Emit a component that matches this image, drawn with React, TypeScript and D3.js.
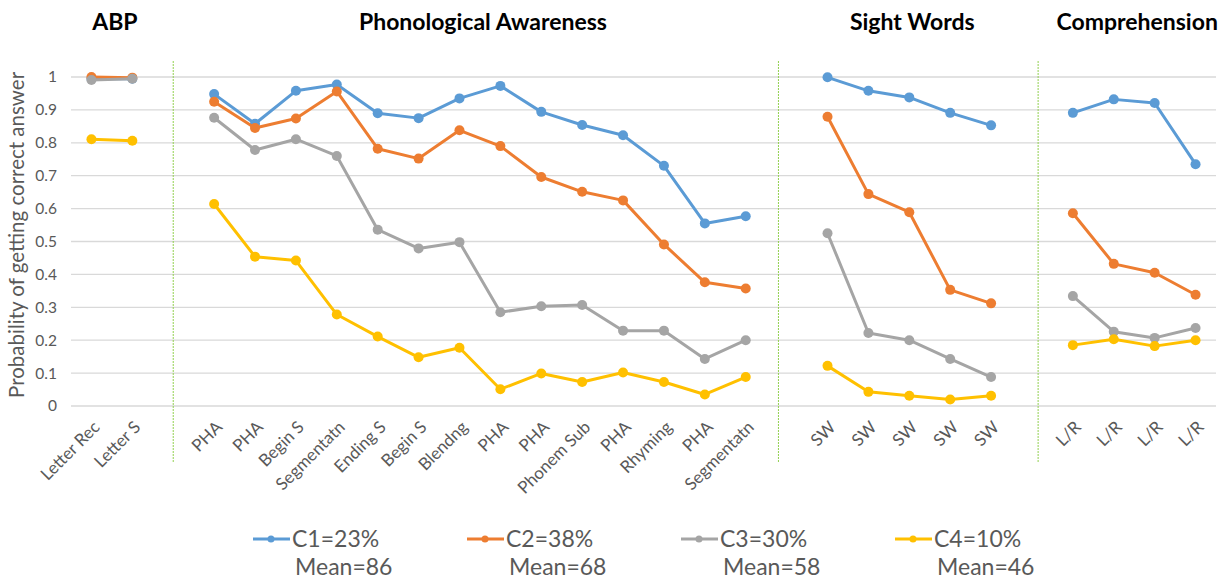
import React, { useEffect, useRef } from 'react';
import * as d3 from 'd3';

// '' marks an empty slot between test groups
const categories = [
  'Letter Rec', 'Letter S', '',
  'PHA', 'PHA', 'Begin S', 'Segmentatn', 'Ending S', 'Begin S', 'Blendng',
  'PHA', 'PHA', 'Phonem Sub', 'PHA', 'Rhyming', 'PHA', 'Segmentatn', '',
  'SW', 'SW', 'SW', 'SW', 'SW', '',
  'L/R', 'L/R', 'L/R', 'L/R',
];

const sections = [
  { name: 'ABP', from: 0, to: 1 },
  { name: 'Phonological Awareness', from: 3, to: 16 },
  { name: 'Sight Words', from: 18, to: 22 },
  { name: 'Comprehension', from: 24, to: 27 },
];

// hand-placed divider lines, in category slots
const separatorSlots = [2, 16.8, 23.15];

const c1 = [
  0.995, 0.995, null,
  0.948, 0.858, 0.958, 0.977, 0.89, 0.875, 0.935, 0.973, 0.894, 0.854, 0.823, 0.73, 0.555, 0.577, null,
  0.999, 0.958, 0.938, 0.891, 0.853, null,
  0.891, 0.932, 0.921, 0.735,
];
const c2 = [
  1.0, 0.998, null,
  0.925, 0.845, 0.874, 0.956, 0.782, 0.752, 0.838, 0.79, 0.696, 0.651, 0.625, 0.491, 0.376, 0.357, null,
  0.879, 0.644, 0.589, 0.353, 0.312, null,
  0.586, 0.432, 0.405, 0.338,
];
const c3 = [
  0.991, 0.995, null,
  0.876, 0.778, 0.811, 0.76, 0.536, 0.479, 0.498, 0.285, 0.303, 0.307, 0.229, 0.229, 0.143, 0.2, null,
  0.525, 0.222, 0.2, 0.143, 0.088, null,
  0.334, 0.226, 0.207, 0.237,
];
const c4 = [
  0.811, 0.806, null,
  0.614, 0.454, 0.442, 0.278, 0.211, 0.148, 0.177, 0.051, 0.099, 0.073, 0.102, 0.073, 0.035, 0.088, null,
  0.122, 0.043, 0.031, 0.02, 0.031, null,
  0.185, 0.203, 0.182, 0.2,
];

const seriesNames = ['C1=23%', 'C2=38%', 'C3=30%', 'C4=10%'];
const seriesMeans = ['Mean=86', 'Mean=68', 'Mean=58', 'Mean=46'];
const seriesValues = [c1, c2, c3, c4];
const colors = ['#5b9bd5', '#ed7d31', '#a5a5a5', '#ffc000'];

const yTicks = [0, 0.1, 0.2, 0.3, 0.4, 0.5, 0.6, 0.7, 0.8, 0.9, 1];

const width = 1232;
const height = 580;
const margin = { top: 77, bottom: 174, left: 71, right: 16 };
const font = 'Lato, Carlito, Calibri, sans-serif';
const textGray = '#595959';

const drawChart = (el: SVGSVGElement) => {
  const svg = d3.select(el);
  svg.selectAll('*').remove();

  const x = d3
    .scalePoint<number>()
    .domain(d3.range(categories.length))
    .range([margin.left, width - margin.right])
    .padding(0.5);
  const step = x.step();
  const slotX = (s: number) => margin.left + step * (s + 0.5);
  const y = d3
    .scaleLinear()
    .domain([0, 1])
    .range([height - margin.bottom, margin.top]);

  // gridlines
  svg
    .append('g')
    .selectAll('line')
    .data(yTicks)
    .join('line')
    .attr('x1', margin.left)
    .attr('x2', width - margin.right)
    .attr('y1', (d) => y(d))
    .attr('y2', (d) => y(d))
    .attr('stroke', '#d9d9d9')
    .attr('stroke-width', 1.3);

  // y tick labels
  svg
    .append('g')
    .selectAll('text')
    .data(yTicks)
    .join('text')
    .attr('x', 57)
    .attr('y', (d) => y(d))
    .attr('dy', '0.35em')
    .attr('text-anchor', 'end')
    .attr('font-family', font)
    .attr('font-size', 15.5)
    .attr('fill', textGray)
    .text((d) => d3.format('~g')(d));

  svg
    .append('text')
    .attr('transform', `translate(24, ${y(0.52)}) rotate(-90)`)
    .attr('text-anchor', 'middle')
    .attr('font-family', font)
    .attr('font-size', 20.5)
    .attr('fill', textGray)
    .text('Probability of getting correct answer');

  // separators
  svg
    .append('g')
    .selectAll('line')
    .data(separatorSlots)
    .join('line')
    .attr('x1', (d) => slotX(d))
    .attr('x2', (d) => slotX(d))
    .attr('y1', 61)
    .attr('y2', 462)
    .attr('stroke', '#92d050')
    .attr('stroke-width', 1)
    .attr('stroke-dasharray', '2,1');

  // x labels
  svg
    .append('g')
    .selectAll('text')
    .data(categories.map((c, i) => ({ c, i })).filter((d) => d.c))
    .join('text')
    .attr('transform', (d) => `translate(${x(d.i)! + 5}, ${height - margin.bottom + 18}) rotate(-45)`)
    .attr('text-anchor', 'end')
    .attr('dy', '0.35em')
    .attr('font-family', font)
    .attr('font-size', 17)
    .attr('fill', textGray)
    .text((d) => d.c);

  // section titles
  svg
    .append('g')
    .selectAll('text')
    .data(sections)
    .join('text')
    .attr('x', (d) => (x(d.from)! + x(d.to)!) / 2 + 3)
    .attr('y', 30)
    .attr('text-anchor', 'middle')
    .attr('font-family', font)
    .attr('font-weight', 'bold')
    .attr('font-size', 23)
    .attr('fill', '#000')
    .text((d) => d.name);

  // series
  const line = d3
    .line<number | null>()
    .defined((d) => d !== null)
    .x((_, i) => x(i)!)
    .y((d) => y(d as number));

  seriesValues.forEach((vals, si) => {
    const g = svg.append('g');
    g.append('path')
      .datum(vals)
      .attr('d', line)
      .attr('fill', 'none')
      .attr('stroke', colors[si])
      .attr('stroke-width', 3)
      .attr('stroke-linejoin', 'round');
    g.selectAll('circle')
      .data(vals.map((v, i) => ({ v, i })).filter((d) => d.v !== null))
      .join('circle')
      .attr('cx', (d) => x(d.i)!)
      .attr('cy', (d) => y(d.v as number))
      .attr('r', 5)
      .attr('fill', colors[si]);
  });

  // legend
  const legend = svg
    .append('g')
    .selectAll('g')
    .data(seriesNames)
    .join('g')
    .attr('transform', (_, i) => `translate(${253 + i * 214}, 0)`);
  legend
    .append('line')
    .attr('x1', 0)
    .attr('x2', 37)
    .attr('y1', 539)
    .attr('y2', 539)
    .attr('stroke', (_, i) => colors[i])
    .attr('stroke-width', 3);
  legend
    .append('circle')
    .attr('cx', 18)
    .attr('cy', 539)
    .attr('r', 3.5)
    .attr('fill', (_, i) => colors[i]);
  legend
    .append('text')
    .attr('x', 39)
    .attr('y', 547)
    .attr('font-family', font)
    .attr('font-size', 23)
    .attr('fill', textGray)
    .text((d) => d);
  legend
    .append('text')
    .attr('x', 42)
    .attr('y', 575)
    .attr('font-family', font)
    .attr('font-size', 23)
    .attr('fill', textGray)
    .text((_, i) => seriesMeans[i]);
};

export default function App() {
  const ref = useRef<SVGSVGElement>(null);

  useEffect(() => {
    document.body.style.margin = '0';
    if (ref.current) drawChart(ref.current);
  }, []);

  return (
    <svg
      ref={ref}
      width={width}
      height={height}
      style={{ display: 'block', background: '#fff' }}
    />
  );
}
